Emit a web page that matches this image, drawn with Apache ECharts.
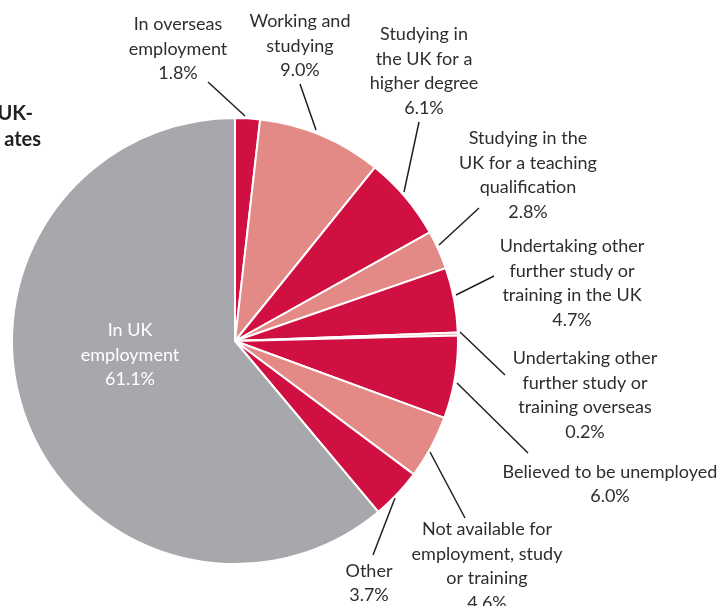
<!DOCTYPE html>
<html>
<head>
<meta charset="utf-8">
<script src="https://cdn.jsdelivr.net/npm/echarts@6/dist/echarts.min.js"></script>
<style>
html,body{margin:0;padding:0;background:#fff;}
#chart{width:722px;height:606px;}
</style>
</head>
<body>
<div id="chart"></div>
<script>
// Data
var categories = [
  'In overseas\nemployment',
  'Working and\nstudying',
  'Studying in\nthe UK for a\nhigher degree',
  'Studying in the\nUK for a teaching\nqualification',
  'Undertaking other\nfurther study or\ntraining in the UK',
  'Undertaking other\nfurther study or\ntraining overseas',
  'Believed to be unemployed',
  'Not available for\nemployment, study\nor training',
  'Other',
  'In UK\nemployment'
];
var values = [1.8, 9.0, 6.1, 2.8, 4.7, 0.2, 6.0, 4.6, 3.7, 61.1];

// Styling / layout
var RED = '#CF1041', PINK = '#E38A86', GREY = '#A7A8AC';
var colors = [RED, PINK, RED, PINK, RED, PINK, RED, PINK, RED, GREY];
var labelPos = [
  [178, 49], [300, 46], [424, 71], [528, 175], [572, 283],
  [585, 395], [610, 484], [487, 566], [369, 583], [130, 355]
];
var guidePts = [
  [[245, 116], [208, 82]],
  [[316, 130], [300, 84]],
  [[404, 192], [419, 122]],
  [[439, 245], [479, 208]],
  [[456, 295], [494, 276]],
  [[460, 332], [505, 375]],
  [[457, 383], [528, 453]],
  [[430, 452], [465, 518]],
  [[395, 498], [373, 555]],
  null
];

var chart = echarts.init(document.getElementById('chart'));
var data = categories.map(function (c, i) {
  var item = {
    name: c,
    value: values[i],
    itemStyle: { color: colors[i] }
  };
  if (i === 9) {
    item.label = { position: 'inside', color: '#ffffff' };
    item.labelLine = { show: false };
  }
  return item;
});

chart.setOption({
  animation: false,
  graphic: [
    { type: 'text', right: 689, top: 104, style: { text: 'UK-', font: 'bold 20px Lato', fill: '#231f20', textAlign: 'right' } },
    { type: 'text', right: 681, top: 130, style: { text: 'ates', font: 'bold 20px Lato', fill: '#231f20', textAlign: 'right' } }
  ],
  series: [{
    type: 'pie',
    center: [235, 341],
    radius: [0, 223],
    startAngle: 90,
    clockwise: true,
    data: data,
    itemStyle: { borderColor: '#ffffff', borderWidth: 2 },
    label: {
      show: true,
      formatter: function (p) { return p.name + '\n' + p.value.toFixed(1) + '%'; },
      fontFamily: 'Lato',
      fontSize: 18,
      lineHeight: 24.5,
      color: '#2e2e2e',
      align: 'center'
    },
    labelLine: { show: true, length: 10, length2: 0, lineStyle: { color: '#231f20', width: 1.5 } },
    labelLayout: function (p) {
      var i = p.dataIndex;
      var pos = labelPos[i];
      var o = { x: pos[0], y: pos[1], align: 'center', verticalAlign: 'middle' };
      if (guidePts[i]) o.labelLinePoints = guidePts[i];
      return o;
    }
  }]
});
</script>
</body>
</html>
